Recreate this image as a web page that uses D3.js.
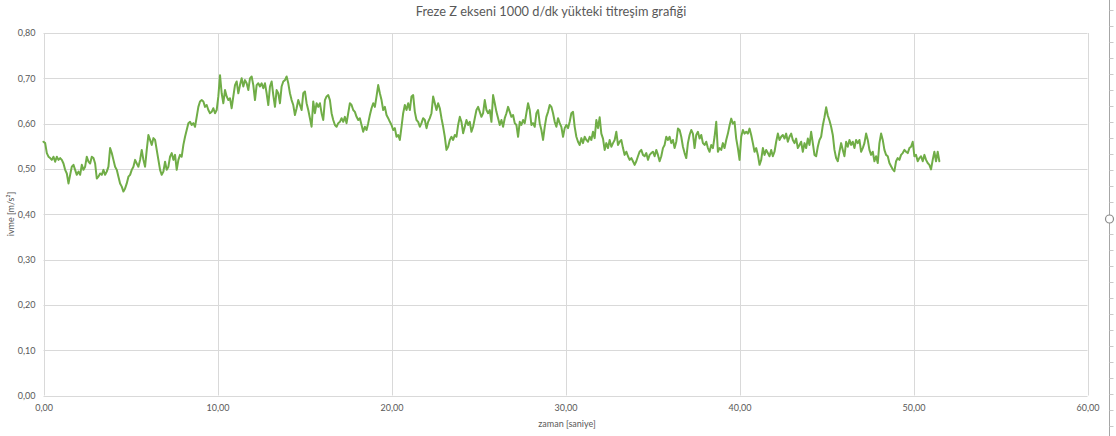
<!DOCTYPE html>
<html>
<head>
<meta charset="utf-8">
<script src="https://cdn.jsdelivr.net/npm/d3@7"></script>
<style>
  html, body { margin: 0; padding: 0; background: #ffffff; }
  svg { display: block; }
  text { font-family: Lato, "Open Sans", sans-serif; fill: #595959; }
</style>
</head>
<body>
<svg id="chart" width="1116" height="436"></svg>
<script>
// ---------------- data ----------------
const chartTitle = "Freze Z ekseni 1000 d/dk yükteki titreşim grafiği";
const xAxisTitle = "zaman [saniye]";
const yAxisTitle = "ivme [m/s²]";
const xTicks = [0, 10, 20, 30, 40, 50, 60];
const yTicks = [0, 0.1, 0.2, 0.3, 0.4, 0.5, 0.6, 0.7, 0.8];
const xDomain = [0, 60];
const yDomain = [0, 0.8];
// sampling interval of the recorded signal, seconds
const sampleStep = 0.0957;
// acceleration values (m/s²), one per sample
const accel = [
0.560,0.557,0.535,0.527,0.524,0.520,0.527,0.516,0.527,0.520,0.524,0.520,0.512,0.498,0.490,0.468,0.487,0.505,0.509,0.498,
0.487,0.494,0.487,0.509,0.498,0.505,0.527,0.516,0.512,0.527,0.524,0.512,0.479,0.483,0.490,0.487,0.498,0.487,0.494,0.505,
0.546,0.535,0.520,0.505,0.498,0.483,0.468,0.461,0.450,0.457,0.468,0.483,0.487,0.498,0.505,0.520,0.512,0.505,0.520,0.542,
0.520,0.505,0.542,0.575,0.564,0.553,0.568,0.564,0.542,0.520,0.498,0.487,0.494,0.516,0.498,0.505,0.527,0.535,0.520,0.531,
0.498,0.520,0.531,0.527,0.553,0.571,0.586,0.601,0.604,0.597,0.601,0.593,0.615,0.637,0.649,0.652,0.649,0.637,0.641,0.630,
0.623,0.626,0.634,0.623,0.630,0.660,0.707,0.667,0.645,0.674,0.660,0.652,0.656,0.634,0.660,0.685,0.693,0.667,0.685,0.700,
0.682,0.696,0.689,0.674,0.700,0.704,0.685,0.652,0.685,0.689,0.682,0.689,0.678,0.689,0.667,0.641,0.682,0.693,0.663,0.637,
0.674,0.667,0.645,0.682,0.693,0.696,0.704,0.689,0.667,0.652,0.641,0.619,0.634,0.652,
0.641,0.630,0.667,0.671,0.645,0.630,0.612,0.593,0.649,0.623,0.645,0.637,0.645,0.623,0.608,0.652,0.660,0.663,0.652,0.623,
0.608,0.597,0.593,0.601,0.604,0.612,0.604,0.615,0.601,0.623,0.645,0.641,0.630,0.626,0.615,0.608,0.612,0.597,0.582,0.593,
0.586,0.601,0.619,0.634,0.645,0.637,0.660,0.685,0.667,0.652,0.630,0.637,0.619,0.612,0.604,0.597,0.586,0.590,0.571,0.575,
0.564,0.593,0.623,0.641,0.630,0.645,0.630,0.660,0.663,0.626,0.608,0.604,0.593,0.601,0.612,0.608,0.590,0.604,0.612,0.623,
0.660,0.645,0.630,0.645,0.634,0.612,0.593,0.571,0.542,0.549,0.564,0.571,0.564,0.575,0.571,0.597,0.615,0.604,0.579,0.593,
0.608,0.597,0.604,0.582,0.593,0.612,0.630,0.637,0.626,0.615,0.623,0.652,0.630,0.623,0.630,0.604,0.663,0.645,0.626,0.612,
0.597,0.608,0.593,0.612,0.623,0.637,0.626,0.615,0.619,0.601,0.597,0.571,0.604,0.597,0.608,0.601,0.623,0.645,0.630,0.597,
0.601,0.593,0.623,0.630,0.601,0.586,0.564,0.593,0.615,0.626,0.641,0.637,0.623,0.604,0.593,0.612,0.601,0.593,0.571,0.590,
0.597,0.590,0.604,0.623,0.626,0.593,0.571,0.560,0.553,0.568,0.557,0.571,0.564,0.560,0.571,0.564,0.582,0.568,0.608,0.590,
0.614,0.578,0.567,0.542,0.557,0.546,0.564,0.549,0.557,0.564,0.582,0.553,0.560,0.564,0.546,0.531,0.538,0.528,0.520,0.524,
0.517,0.509,0.517,0.528,0.538,0.542,0.531,0.528,0.535,0.520,0.531,0.535,0.538,0.528,0.542,0.531,0.517,0.528,0.546,0.553,
0.571,0.564,0.571,0.557,0.564,0.546,0.560,0.589,0.586,0.571,0.549,0.535,0.524,0.557,0.575,0.586,0.578,0.546,0.575,0.582,
0.567,0.575,0.557,0.553,0.560,0.546,0.538,0.553,0.546,0.571,0.604,0.538,0.546,0.542,0.557,0.546,0.564,0.578,0.596,0.611,
0.600,0.604,0.567,0.546,0.520,0.571,0.586,0.578,0.582,0.578,0.589,0.575,0.557,0.538,0.546,0.531,0.509,0.520,0.546,0.531,
0.542,0.535,0.528,0.542,0.528,0.538,0.560,0.578,0.564,0.571,0.575,0.567,0.578,0.560,0.571,0.578,0.564,0.557,0.567,0.546,
0.553,0.560,0.538,0.557,0.546,0.567,0.553,0.582,0.557,0.531,0.528,0.549,0.564,0.571,0.596,0.614,0.636,0.618,0.607,0.593,
0.575,0.542,0.524,0.517,0.538,0.557,0.542,0.528,0.560,0.549,0.564,0.553,0.560,0.546,0.564,0.557,0.564,0.538,0.546,0.557,
0.578,0.564,0.542,0.531,0.538,0.517,0.528,0.513,0.557,0.578,0.564,0.542,0.531,0.528,0.513,0.506,0.499,0.495,0.517,0.524,
0.520,0.531,0.535,0.542,0.538,0.535,0.546,0.549,0.560,0.528,0.531,0.517,0.524,0.528,0.517,0.531,0.520,0.513,0.509,0.499,
0.520,0.538,0.517,0.538,0.517
];

// ---------------- layout ----------------
const svg = d3.select("#chart");
const W = 1116, H = 436;
const plot = { left: 43.5, right: 1087.5, top: 33, bottom: 395.5 };

const x = d3.scaleLinear().domain(xDomain).range([plot.left, plot.right]);
const y = d3.scaleLinear().domain(yDomain).range([plot.bottom, plot.top]);

const fmt = v => d3.format(".2f")(v).replace(".", ",");

// gridlines
const gridColor = "#d9d9d9";
svg.append("g").attr("class", "ygrid")
  .selectAll("line").data(yTicks).join("line")
  .attr("x1", plot.left).attr("x2", plot.right)
  .attr("y1", d => Math.round(y(d)) + 0.5).attr("y2", d => Math.round(y(d)) + 0.5)
  .attr("stroke", gridColor).attr("stroke-width", 1);
svg.append("g").attr("class", "xgrid")
  .selectAll("line").data(xTicks).join("line")
  .attr("x1", d => Math.round(x(d)) + 0.5).attr("x2", d => Math.round(x(d)) + 0.5)
  .attr("y1", plot.top).attr("y2", plot.bottom)
  .attr("stroke", gridColor).attr("stroke-width", 1);

// axes (labels only, via d3 axis generators)
const yAxis = d3.axisLeft(y).tickValues(yTicks).tickFormat(fmt).tickSize(0).tickPadding(8);
const gy = svg.append("g").attr("transform", `translate(${plot.left},0)`).call(yAxis);
gy.select(".domain").remove();
gy.selectAll("text").attr("font-size", 9).attr("fill", "#595959")
  .style("font-family", "Lato, sans-serif");

const xAxis = d3.axisBottom(x).tickValues(xTicks).tickFormat(fmt).tickSize(0).tickPadding(9);
const gx = svg.append("g").attr("transform", `translate(0,${plot.bottom})`).call(xAxis);
gx.select(".domain").remove();
gx.selectAll("text").attr("font-size", 9).attr("fill", "#595959")
  .style("font-family", "Lato, sans-serif");

// data line
const pts = accel.map((v, i) => [i * sampleStep, v]);
const line = d3.line().x(d => x(d[0])).y(d => y(d[1]));
svg.append("path").datum(pts)
  .attr("d", line)
  .attr("fill", "none")
  .attr("stroke", "#70ad47")
  .attr("stroke-width", 2)
  .attr("stroke-linejoin", "round")
  .attr("stroke-linecap", "round");

// titles
svg.append("text")
  .attr("x", 551).attr("y", 16)
  .attr("text-anchor", "middle")
  .attr("font-size", 12.8)
  .text(chartTitle);

svg.append("text")
  .attr("x", 567).attr("y", 427)
  .attr("text-anchor", "middle")
  .attr("font-size", 9)
  .text(xAxisTitle);

svg.append("text")
  .attr("transform", `translate(14,214) rotate(-90)`)
  .attr("text-anchor", "middle")
  .attr("font-size", 9)
  .text(yAxisTitle);

// right-side resize handle artifact of the screenshot
const handleX = 1109.5;
svg.append("line")
  .attr("x1", handleX).attr("x2", handleX).attr("y1", 0).attr("y2", H)
  .attr("stroke", "#a6a6a6").attr("stroke-width", 1);
const handleTicks = d3.range(10, H, 16);
svg.append("g").selectAll("line").data(handleTicks).join("line")
  .attr("x1", handleX).attr("x2", handleX + 4)
  .attr("y1", d => d + 0.5).attr("y2", d => d + 0.5)
  .attr("stroke", "#c8c8c8").attr("stroke-width", 1);
svg.append("circle")
  .attr("cx", handleX).attr("cy", 219).attr("r", 4)
  .attr("fill", "#ffffff").attr("stroke", "#8c8c8c").attr("stroke-width", 1.2);
</script>
</body>
</html>
